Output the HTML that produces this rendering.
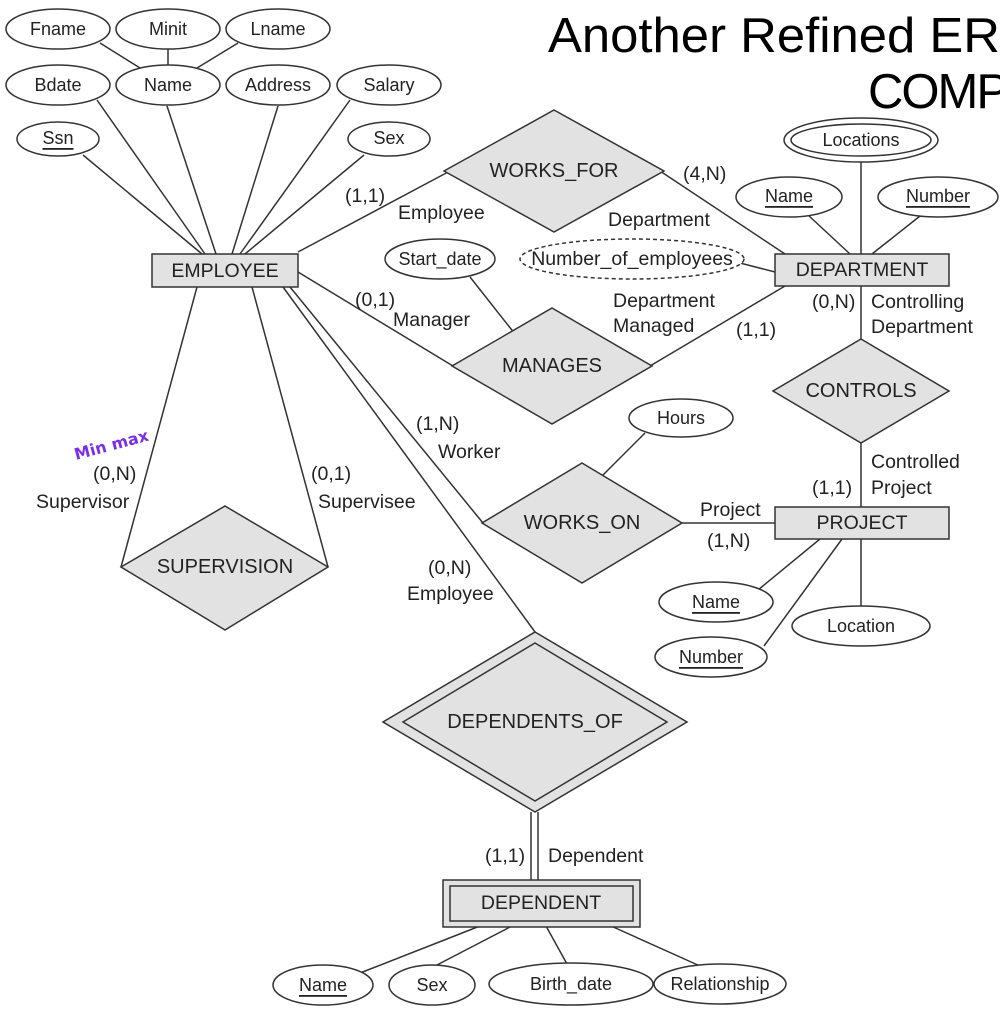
<!DOCTYPE html>
<html><head><meta charset="utf-8"><style>
html,body{margin:0;padding:0;background:#fff;overflow:hidden;}
svg{display:block;}
text{font-family:"Liberation Sans",sans-serif;fill:#222;}
.a{font-size:18px;text-anchor:middle;dominant-baseline:central;}
.e{font-size:19.5px;text-anchor:middle;dominant-baseline:central;}
.r{font-size:20px;text-anchor:middle;dominant-baseline:central;}
.l{font-size:19.5px;}
</style></head><body>
<svg width="1000" height="1019" viewBox="0 0 1000 1019" xmlns="http://www.w3.org/2000/svg">
<g stroke="#333" stroke-width="1.5" fill="none">
<line x1="100" y1="43" x2="140" y2="68"/>
<line x1="168" y1="49" x2="168" y2="66"/>
<line x1="238" y1="43" x2="197" y2="68"/>
<line x1="97" y1="100" x2="205" y2="254"/>
<line x1="167" y1="106" x2="216" y2="254"/>
<line x1="278" y1="106" x2="232" y2="254"/>
<line x1="350" y1="100" x2="240" y2="254"/>
<line x1="364" y1="155" x2="245" y2="254"/>
<line x1="83" y1="155" x2="202" y2="254"/>
<line x1="298" y1="252" x2="450" y2="171"/>
<line x1="660" y1="171" x2="785" y2="254"/>
<line x1="298" y1="272" x2="453" y2="366"/>
<line x1="650" y1="366" x2="785" y2="286"/>
<line x1="470" y1="277" x2="515" y2="334"/>
<line x1="740" y1="263" x2="775" y2="272"/>
<line x1="861" y1="160" x2="861" y2="254"/>
<line x1="808" y1="215" x2="850" y2="254"/>
<line x1="920" y1="216" x2="872" y2="254"/>
<line x1="861" y1="286" x2="861" y2="339"/>
<line x1="861" y1="443" x2="861" y2="507"/>
<line x1="290" y1="287" x2="483" y2="523"/>
<line x1="682" y1="523" x2="775" y2="523"/>
<line x1="645" y1="433" x2="600" y2="478"/>
<line x1="820" y1="539" x2="758" y2="590"/>
<line x1="842" y1="539" x2="764" y2="646"/>
<line x1="861" y1="539" x2="861" y2="606"/>
<line x1="197" y1="287" x2="121" y2="567"/>
<line x1="252" y1="287" x2="328" y2="567"/>
<line x1="283" y1="287" x2="535" y2="632"/>
<line x1="531" y1="812" x2="531" y2="880"/>
<line x1="538" y1="812" x2="538" y2="880"/>
<line x1="480" y1="926" x2="360" y2="973"/>
<line x1="512" y1="926" x2="435" y2="966"/>
<line x1="546" y1="926" x2="567" y2="964"/>
<line x1="611" y1="926" x2="700" y2="966"/>
</g>
<g stroke="#333" stroke-width="1.5" fill="#fff">
<ellipse cx="58" cy="29" rx="52" ry="20"/>
<ellipse cx="168" cy="29" rx="52" ry="20"/>
<ellipse cx="278" cy="29" rx="52" ry="20"/>
<ellipse cx="58" cy="85" rx="52" ry="20"/>
<ellipse cx="168" cy="85" rx="52" ry="20"/>
<ellipse cx="278" cy="85" rx="52" ry="20"/>
<ellipse cx="389" cy="85" rx="52" ry="20"/>
<ellipse cx="58" cy="139" rx="41" ry="17"/>
<ellipse cx="389" cy="139" rx="41" ry="17"/>
<ellipse cx="861" cy="140" rx="77" ry="22"/>
<ellipse cx="861" cy="140" rx="70" ry="16"/>
<ellipse cx="789" cy="197" rx="53" ry="20"/>
<ellipse cx="938" cy="197" rx="60" ry="20"/>
<ellipse cx="440" cy="259" rx="55" ry="20"/>
<ellipse cx="632" cy="259" rx="112" ry="20" stroke-dasharray="4,3"/>
<ellipse cx="681" cy="418" rx="52" ry="19"/>
<ellipse cx="716" cy="602" rx="57" ry="20"/>
<ellipse cx="711" cy="657" rx="56" ry="20"/>
<ellipse cx="861" cy="626" rx="69" ry="20"/>
<ellipse cx="323" cy="985" rx="50" ry="20"/>
<ellipse cx="432" cy="985" rx="43" ry="20"/>
<ellipse cx="571" cy="984" rx="82" ry="21"/>
<ellipse cx="720" cy="984" rx="66" ry="20"/>
</g>
<g stroke="#333" stroke-width="1.5" fill="#e2e2e2">
<rect x="152" y="254" width="146" height="33"/>
<rect x="775" y="254" width="174" height="32"/>
<rect x="775" y="507" width="174" height="32"/>
<rect x="443" y="880" width="197" height="47"/>
<rect x="450" y="886" width="183" height="35"/>
<polygon points="554,110 664,171 554,232 444,171"/>
<polygon points="552,308 652,366 552,424 452,366"/>
<polygon points="861,339 949,391 861,443 773,391"/>
<polygon points="582,463 682,523 582,583 482,523"/>
<polygon points="225,506 328,567 225,630 121,567"/>
<polygon points="535,632 687,722 535,812 383,722"/>
<polygon points="535,643 667,722 535,801 403,722"/>
</g>
<text x="58" y="29" class="a">Fname</text>
<text x="168" y="29" class="a">Minit</text>
<text x="278" y="29" class="a">Lname</text>
<text x="58" y="85" class="a">Bdate</text>
<text x="168" y="85" class="a">Name</text>
<text x="278" y="85" class="a">Address</text>
<text x="389" y="85" class="a">Salary</text>
<text x="58" y="138" class="a" text-decoration="underline">Ssn</text>
<text x="389" y="138" class="a">Sex</text>
<text x="861" y="140" class="a">Locations</text>
<text x="789" y="196" class="a" text-decoration="underline">Name</text>
<text x="938" y="196" class="a" text-decoration="underline">Number</text>
<text x="440" y="259" class="a">Start_date</text>
<text x="632" y="259" class="a" style="font-size:19.5px">Number_of_employees</text>
<text x="681" y="418" class="a">Hours</text>
<text x="716" y="602" class="a" text-decoration="underline">Name</text>
<text x="711" y="657" class="a" text-decoration="underline">Number</text>
<text x="861" y="626" class="a">Location</text>
<text x="323" y="985" class="a" text-decoration="underline">Name</text>
<text x="432" y="985" class="a">Sex</text>
<text x="571" y="984" class="a">Birth_date</text>
<text x="720" y="984" class="a">Relationship</text>
<text x="225" y="271" class="e">EMPLOYEE</text>
<text x="862" y="270" class="e">DEPARTMENT</text>
<text x="862" y="523" class="e">PROJECT</text>
<text x="541" y="903" class="e">DEPENDENT</text>
<text x="554" y="171" class="r">WORKS_FOR</text>
<text x="552" y="366" class="r">MANAGES</text>
<text x="861" y="391" class="r">CONTROLS</text>
<text x="582" y="523" class="r">WORKS_ON</text>
<text x="225" y="567" class="r">SUPERVISION</text>
<text x="535" y="722" class="r">DEPENDENTS_OF</text>
<text x="345" y="202" class="l">(1,1)</text>
<text x="398" y="219" class="l">Employee</text>
<text x="683" y="180" class="l">(4,N)</text>
<text x="608" y="226" class="l">Department</text>
<text x="355" y="306" class="l">(0,1)</text>
<text x="393" y="326" class="l">Manager</text>
<text x="613" y="307" class="l">Department</text>
<text x="613" y="332" class="l">Managed</text>
<text x="736" y="336" class="l">(1,1)</text>
<text x="812" y="308" class="l">(0,N)</text>
<text x="871" y="308" class="l">Controlling</text>
<text x="871" y="333" class="l">Department</text>
<text x="871" y="468" class="l">Controlled</text>
<text x="871" y="494" class="l">Project</text>
<text x="812" y="494" class="l">(1,1)</text>
<text x="700" y="516" class="l">Project</text>
<text x="707" y="547" class="l">(1,N)</text>
<text x="416" y="430" class="l">(1,N)</text>
<text x="438" y="458" class="l">Worker</text>
<text x="93" y="480" class="l">(0,N)</text>
<text x="36" y="508" class="l">Supervisor</text>
<text x="311" y="480" class="l">(0,1)</text>
<text x="318" y="508" class="l">Supervisee</text>
<text x="428" y="574" class="l">(0,N)</text>
<text x="407" y="600" class="l">Employee</text>
<text x="485" y="862" class="l">(1,1)</text>
<text x="548" y="862" class="l">Dependent</text>
<text x="76" y="460" transform="rotate(-15 76 460)" style="font-family:'DejaVu Sans',sans-serif;font-size:16px;font-weight:bold;fill:#7a2fe8">Min max</text>
<text x="548" y="52" textLength="452" lengthAdjust="spacingAndGlyphs" style="font-size:49px;fill:#000">Another Refined ER</text>
<text x="868" y="108" style="font-size:49px;fill:#000;letter-spacing:-2px">COMP</text>
</svg>
</body></html>
